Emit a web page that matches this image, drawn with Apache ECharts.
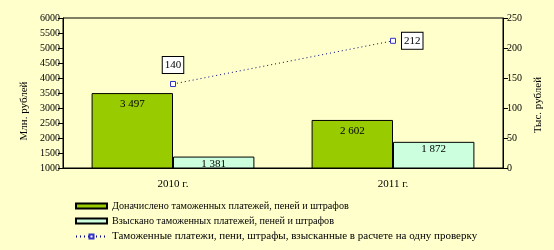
<!DOCTYPE html>
<html><head><meta charset="utf-8">
<script src="https://cdn.jsdelivr.net/npm/echarts@6/dist/echarts.min.js"></script>
<style>html,body{margin:0;padding:0;background:#FFFFCC;}#c{width:554px;height:250px;}</style>
</head><body><div id="c"></div>
<script>
const categories = ['2010 г.', '2011 г.'];
const accrued = [3497, 2602];
const collected = [1381, 1872];
const perCheck = [140, 212];
const seriesNames = [
  'Доначислено таможенных платежей, пеней и штрафов',
  'Взыскано таможенных платежей, пеней и штрафов',
  'Таможенные платежи, пени, штрафы, взысканные в расчете на одну проверку'
];
const leftTicks = [1000, 6000, 500];
const rightTicks = [0, 250, 50];

const font = 'Liberation Serif';
const fmt = v => { const s = String(v); return s.length > 3 ? s.slice(0, s.length - 3) + ' ' + s.slice(-3) : s; };
const chart = echarts.init(document.getElementById('c'));
const axisLabel = {color: '#000', fontFamily: font, fontSize: 10, formatter: v => String(v)};
chart.setOption({
  backgroundColor: '#FFFFCC',
  animation: false,
  textStyle: {fontFamily: font, color: '#000'},
  grid: {left: 63, right: 51, top: 18, bottom: 82, show: true, borderColor: '#000', borderWidth: 1, backgroundColor: 'transparent'},
  legend: {
    orient: 'vertical', left: 70, top: 196, itemGap: 5, itemWidth: 31, itemHeight: 5,
    textStyle: {fontFamily: font, fontSize: 10.2, color: '#000'},
    data: [
      {name: seriesNames[0], icon: 'rect'},
      {name: seriesNames[1], icon: 'rect'},
      {name: seriesNames[2], textStyle: {fontSize: 11}}
    ]
  },
  xAxis: {
    type: 'category', data: categories,
    axisLine: {lineStyle: {color: '#000'}},
    axisTick: {length: 5, lineStyle: {color: '#000'}},
    axisLabel: {margin: 11, fontSize: 11, color: '#000', fontFamily: font}
  },
  yAxis: [
    {type: 'value', min: leftTicks[0], max: leftTicks[1], interval: leftTicks[2],
     splitLine: {show: false},
     axisLine: {show: true, lineStyle: {color: '#000'}},
     axisTick: {show: true, length: 5, lineStyle: {color: '#000'}},
     axisLabel: Object.assign({}, axisLabel, {margin: 3})},
    {type: 'value', min: rightTicks[0], max: rightTicks[1], interval: rightTicks[2],
     splitLine: {show: false},
     axisLine: {show: true, lineStyle: {color: '#000'}},
     axisTick: {show: true, length: 5, lineStyle: {color: '#000'}},
     axisLabel: Object.assign({}, axisLabel, {margin: 4})}
  ],
  graphic: [
    {type: 'text', x: 24, y: 111, rotation: Math.PI / 2,
     style: {text: 'Млн. рублей', fontFamily: font, fontSize: 11, fill: '#000', align: 'center', verticalAlign: 'middle'}},
    {type: 'text', x: 538, y: 105, rotation: Math.PI / 2,
     style: {text: 'Тыс. рублей', fontFamily: font, fontSize: 11, fill: '#000', align: 'center', verticalAlign: 'middle'}}
  ],
  series: [
    {name: seriesNames[0], type: 'bar', data: accrued, barGap: '0%', barCategoryGap: '26%', clip: true,
     itemStyle: {color: '#99CC00', borderColor: '#000', borderWidth: 1},
     label: {show: true, position: 'insideTop', distance: 6, formatter: p => fmt(p.value), fontFamily: font, fontSize: 11, color: '#000'}},
    {name: seriesNames[1], type: 'bar', data: collected, clip: true,
     itemStyle: {color: '#CCFFDD', borderColor: '#000', borderWidth: 1},
     label: {show: true, position: 'insideTop', distance: 2, formatter: p => fmt(p.value), fontFamily: font, fontSize: 11, color: '#000'}},
    {name: seriesNames[2], type: 'line', yAxisIndex: 1,
     data: perCheck.map((v, i) => ({value: v, label: i === 0 ? {position: 'top', distance: 8} : {position: 'right', distance: 6}})),
     symbol: 'rect', symbolSize: 5,
     itemStyle: {color: '#FFFFFF', borderColor: '#3333CC', borderWidth: 1},
     lineStyle: {color: '#000080', width: 1, type: [1, 3]},
     label: {show: true, fontFamily: font, fontSize: 11, color: '#000', backgroundColor: '#fff', borderColor: '#000', borderWidth: 1, padding: [3, 2, 2, 2]}}
  ]
});
</script></body></html>
